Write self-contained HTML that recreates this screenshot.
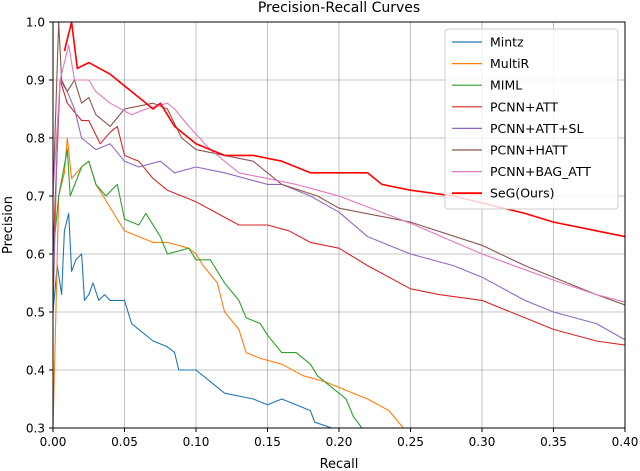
<!DOCTYPE html>
<html><head><meta charset="utf-8">
<style>
body{margin:0;background:#fff;}
svg{display:block;font-family:"DejaVu Sans","Liberation Sans",sans-serif;}
</style></head>
<body>
<svg id="chart" width="640" height="471" viewBox="0 0 640 471">
<text x="339" y="12" text-anchor="middle" font-size="14" fill="#000">Precision-Recall Curves</text>
<g id="grid"></g>
<g id="series"></g>
<rect x="53" y="22" width="572" height="406" fill="none" stroke="#000" stroke-width="1"/>
<g id="ticks"></g>
<text x="339" y="468" text-anchor="middle" font-size="13">Recall</text>
<text transform="translate(12,225) rotate(-90)" text-anchor="middle" font-size="13">Precision</text>
<g id="legend"></g>
</svg>
<script>
const xTicks=[0,0.05,0.10,0.15,0.20,0.25,0.30,0.35,0.40];
const xTickLabels=["0.00","0.05","0.10","0.15","0.20","0.25","0.30","0.35","0.40"];
const yTicks=[0.3,0.4,0.5,0.6,0.7,0.8,0.9,1.0];
const yTickLabels=["0.3","0.4","0.5","0.6","0.7","0.8","0.9","1.0"];
const seriesNames=["Mintz","MultiR","MIML","PCNN+ATT","PCNN+ATT+SL","PCNN+HATT","PCNN+BAG_ATT","SeG(Ours)"];
const seriesColors=["#1f77b4","#ff7f0e","#2ca02c","#d62728","#9467bd","#8c564b","#e377c2","#ff0000"];
const mintzR=[0,0.003,0.006,0.008,0.011,0.013,0.016,0.02,0.022,0.025,0.028,0.032,0.036,0.04,0.05,0.055,0.06,0.07,0.08,0.085,0.088,0.1,0.11,0.12,0.14,0.15,0.16,0.17,0.18,0.183,0.195];
const mintzP=[0.5,0.58,0.53,0.64,0.67,0.57,0.59,0.6,0.52,0.53,0.55,0.52,0.53,0.52,0.52,0.48,0.47,0.45,0.44,0.43,0.40,0.40,0.38,0.36,0.35,0.34,0.35,0.34,0.33,0.31,0.3];
const multiR=[0,0.002,0.004,0.008,0.01,0.013,0.02,0.025,0.03,0.035,0.04,0.05,0.06,0.07,0.08,0.095,0.1,0.105,0.115,0.12,0.13,0.135,0.145,0.16,0.175,0.19,0.2,0.21,0.22,0.235,0.245];
const multiP=[0.3,0.5,0.7,0.74,0.80,0.73,0.75,0.76,0.72,0.70,0.68,0.64,0.63,0.62,0.62,0.61,0.60,0.58,0.55,0.50,0.47,0.43,0.42,0.41,0.39,0.38,0.37,0.36,0.35,0.33,0.30];
const mimlR=[0,0.004,0.01,0.012,0.02,0.025,0.03,0.037,0.045,0.05,0.06,0.065,0.075,0.08,0.095,0.1,0.11,0.12,0.13,0.135,0.145,0.15,0.16,0.17,0.18,0.185,0.195,0.205,0.21,0.216];
const mimlP=[0.6,0.7,0.78,0.70,0.75,0.76,0.72,0.70,0.72,0.66,0.65,0.67,0.63,0.60,0.61,0.59,0.59,0.55,0.52,0.49,0.48,0.46,0.43,0.43,0.41,0.39,0.37,0.35,0.32,0.30];
const attR=[0,0.005,0.01,0.02,0.025,0.033,0.04,0.045,0.05,0.06,0.07,0.08,0.09,0.1,0.115,0.13,0.15,0.165,0.18,0.2,0.22,0.25,0.27,0.3,0.33,0.35,0.38,0.4];
const attP=[0.6,0.9,0.86,0.83,0.83,0.79,0.81,0.82,0.77,0.76,0.73,0.71,0.70,0.69,0.67,0.65,0.65,0.64,0.62,0.61,0.58,0.54,0.53,0.52,0.49,0.47,0.45,0.443];
const attslR=[0,0.003,0.005,0.01,0.015,0.02,0.03,0.04,0.05,0.06,0.075,0.085,0.1,0.12,0.15,0.16,0.18,0.2,0.22,0.25,0.28,0.3,0.33,0.35,0.38,0.4];
const attslP=[0.5,0.8,0.9,0.88,0.85,0.80,0.78,0.79,0.76,0.75,0.76,0.74,0.75,0.74,0.72,0.72,0.70,0.672,0.63,0.60,0.58,0.56,0.52,0.50,0.48,0.452];
const hattR=[0,0.004,0.006,0.01,0.015,0.02,0.025,0.03,0.04,0.05,0.07,0.08,0.09,0.1,0.12,0.14,0.16,0.185,0.2,0.25,0.3,0.33,0.35,0.38,0.4];
const hattP=[0.7,1.0,0.9,0.88,0.9,0.86,0.87,0.84,0.82,0.85,0.86,0.85,0.80,0.78,0.77,0.76,0.72,0.70,0.679,0.655,0.615,0.58,0.56,0.53,0.512];
const bagR=[0,0.005,0.011,0.015,0.025,0.03,0.04,0.055,0.065,0.08,0.085,0.095,0.11,0.13,0.15,0.17,0.185,0.2,0.25,0.3,0.35,0.38,0.4];
const bagP=[0.7,0.9,0.96,0.90,0.90,0.88,0.86,0.84,0.85,0.86,0.85,0.82,0.78,0.74,0.73,0.72,0.71,0.70,0.653,0.60,0.555,0.53,0.517];
const segR=[0.008,0.013,0.017,0.025,0.04,0.045,0.06,0.07,0.075,0.085,0.1,0.11,0.12,0.14,0.16,0.18,0.2,0.22,0.23,0.25,0.28,0.3,0.33,0.35,0.38,0.4];
const segP=[0.95,1.0,0.92,0.93,0.91,0.90,0.87,0.85,0.86,0.82,0.79,0.78,0.77,0.77,0.76,0.74,0.74,0.74,0.72,0.71,0.70,0.688,0.67,0.655,0.64,0.63];
const allR=[mintzR,multiR,mimlR,attR,attslR,hattR,bagR,segR];
const allP=[mintzP,multiP,mimlP,attP,attslP,hattP,bagP,segP];
const seriesKeys=["mintz","multir","miml","pcnn-att","pcnn-att-sl","pcnn-hatt","pcnn-bag-att","seg-ours"];

const NS="http://www.w3.org/2000/svg";
function xs(r){return 53+(r/0.4)*572;}
function ys(p){return 428-(p-0.3)/0.7*406;}
function mk(tag,attrs,parent){const e=document.createElementNS(NS,tag);for(const k in attrs)e.setAttribute(k,attrs[k]);parent.appendChild(e);return e;}
const grid=document.getElementById('grid'),ticks=document.getElementById('ticks'),ser=document.getElementById('series'),leg=document.getElementById('legend');
xTicks.forEach((t,i)=>{
  const x=xs(t);
  const g=mk('line',{x1:x,x2:x,y1:22,y2:428,stroke:'#b0b0b0','stroke-width':0.8},grid);
  
  
  const tk=mk('line',{x1:x,x2:x,y1:428,y2:432,stroke:'#000'},ticks);
  
  
  const tl=mk('text',{x:x,y:446,'text-anchor':'middle','font-size':12},ticks);
  tl.textContent=xTickLabels[i];
  
  
});
yTicks.forEach((t,i)=>{
  const y=ys(t);
  const g=mk('line',{x1:53,x2:625,y1:y,y2:y,stroke:'#b0b0b0','stroke-width':0.8},grid);
  
  
  const tk=mk('line',{x1:49,x2:53,y1:y,y2:y,stroke:'#000'},ticks);
  
  
  const tl=mk('text',{x:45,y:y+4.5,'text-anchor':'end','font-size':12},ticks);
  tl.textContent=yTickLabels[i];
  
  
});
const clip=mk('clipPath',{id:'pc'},mk('defs',{},document.getElementById('chart')));
mk('rect',{x:53,y:22,width:572,height:406},clip);
ser.setAttribute('clip-path','url(#pc)');
allR.forEach((R,s)=>{
  const P=allP[s];
  const pts=R.map((r,i)=>xs(r).toFixed(1)+','+ys(P[i]).toFixed(1)).join(' ');
  const p=mk('polyline',{points:pts,fill:'none',stroke:seriesColors[s],'stroke-width':s===7?1.6:1.1,'stroke-linejoin':'round'},ser);
  
  
});
const box=mk('rect',{x:445,y:29,width:173,height:180,rx:3,fill:'#fff','fill-opacity':0.8,stroke:'#ccc'},leg);


seriesNames.forEach((n,i)=>{
  const y=42+i*21.6;
  const g=mk('g',{},leg);
  
  
  mk('line',{x1:452,x2:482,y1:y,y2:y,stroke:seriesColors[i],'stroke-width':i===7?1.8:1.2},g);
  const t=mk('text',{x:490,y:y+4.5,'font-size':12.5},g);
  t.textContent=n;
});
</script>
</body></html>
